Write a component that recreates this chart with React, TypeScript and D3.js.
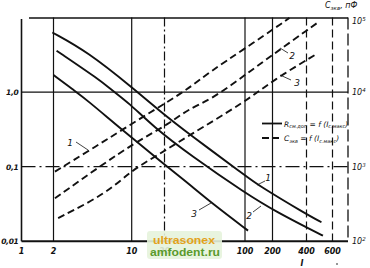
import React from 'react';
import * as d3 from 'd3';

// ---- data ----
const xTicks = [1, 2, 10, 20, 100, 200, 400, 600];
const xTickLabels = ['1', '2', '10', '20', '100', '200', '400', '600'];
const yTicks = [0.01, 0.1, 1];
const yTickLabels = ['0,01', '0,1', '1,0'];
const cTicks = [100, 1000, 10000, 100000];
const cTickExp = ['2', '3', '4', '5'];

// R = f(I) solid curves (left axis)
const r1I = [1.95, 4, 10.5, 17, 33, 100, 134, 400, 505];
const r1 = [6.3, 3.5, 1.1, 0.6, 0.27, 0.077, 0.058, 0.023, 0.018];
const r2I = [2.13, 5.2, 6.6, 9.5, 15.8, 33.3, 104, 218, 442, 517];
const r2 = [3.59, 1.45, 1.07, 0.71, 0.344, 0.1435, 0.0431, 0.0247, 0.0139, 0.0119];
const r3I = [2, 3, 4, 7.9, 20.3, 27.3, 33.3, 52.7, 108];
const r3 = [1.7, 1.07, 0.78, 0.327, 0.105, 0.073, 0.057, 0.0316, 0.0139];

// C = f(I) dashed curves (right axis, pF)
const c1I = [2.06, 4.24, 8.14, 20.3, 31.2, 49.7, 95.5, 267, 282];
const c1 = [860, 1670, 3100, 7100, 10700, 18800, 36600, 92500, 99000];
const c2I = [2.06, 5.4, 11.1, 22.3, 31.2, 53, 100, 188, 469];
const c2 = [377, 1054, 2163, 3820, 5750, 8260, 16950, 29840, 83600];
const c3I = [2.2, 6, 10, 17, 31, 104, 203, 457];
const c3 = [205, 440, 900, 1400, 2500, 7600, 14500, 31500];

const curveLabels = ['1', '2', '3'];

// ---- layout ----
const W = 370, H = 268;
const L = 21.5, R = 348, T = 17.5, B = 241.3;
const INK = '#111';
const FONT = 'DejaVu Sans';

const x = d3.scaleLog().domain(xTicks).range([L, 53.5, 131.7, 164.5, 245, 272.5, 306.5, 332.5]);
const yR = d3.scaleLog().domain([0.01, 10]).range([B, T]);
const yC = d3.scaleLog().domain([100, 100000]).range([B, T]);

const zip = (a: number[], b: number[]) => a.map((v, i) => [v, b[i]] as [number, number]);
const lineR = d3.line<[number, number]>().x(d => x(d[0])).y(d => yR(d[1])).curve(d3.curveBasis);
const lineC = d3.line<[number, number]>().x(d => x(d[0])).y(d => yC(d[1])).curve(d3.curveBasis);

const gridStyle: Record<number, string | undefined> = {
  1: undefined, 2: undefined, 10: undefined, 20: '9,3,2,3', 100: undefined, 200: undefined, 400: '8,4', 600: '8,4',
};

export default function App() {
  const tf = { fontFamily: FONT, fontStyle: 'italic' as const, fill: INK };
  return (
    <svg width={W} height={H} style={{ position: 'absolute', left: 0, top: 0, background: '#fff' }}>
      <rect width={W} height={H} fill="#fff" />
      {/* frame */}
      <line x1={L} x2={L} y1={T + 1.5} y2={B} stroke={INK} strokeWidth={1.6} />
      <line x1={29} x2={R} y1={T + 0.5} y2={T + 0.5} stroke={INK} strokeWidth={1.3} />
      <line x1={L} x2={R} y1={B} y2={B} stroke={INK} strokeWidth={2} />
      <line x1={R} x2={R} y1={T} y2={B} stroke={INK} strokeWidth={1.3} strokeDasharray="12,4" />
      {/* vertical grid */}
      {xTicks.slice(1).map(v => (
        <line key={v} x1={x(v)} x2={x(v)} y1={T} y2={B} stroke={INK} strokeWidth={1.2}
          strokeDasharray={gridStyle[v]} />
      ))}
      {/* horizontal grid */}
      <line x1={L} x2={R} y1={yR(1)} y2={yR(1)} stroke={INK} strokeWidth={1.2} />
      <line x1={L} x2={R} y1={yR(0.1)} y2={yR(0.1)} stroke={INK} strokeWidth={1.2} strokeDasharray="14,4,2,4" />

      {/* curves */}
      {[zip(r1I, r1), zip(r2I, r2), zip(r3I, r3)].map((d, i) => (
        <path key={'r' + i} d={lineR(d) || ''} fill="none" stroke={INK} strokeWidth={1.9} />
      ))}
      {[zip(c1I, c1), zip(c2I, c2), zip(c3I, c3)].map((d, i) => (
        <path key={'c' + i} d={lineC(d) || ''} fill="none" stroke={INK} strokeWidth={1.9} strokeDasharray="7,4" />
      ))}

      {/* curve labels with leaders */}
      <g {...tf} fontSize={9}>
        <text x={268} y={181} textAnchor="middle">{curveLabels[0]}</text>
        <line x1={265} y1={181} x2={257} y2={185} stroke={INK} strokeWidth={0.8} />
        <text x={249} y={219} textAnchor="middle">{curveLabels[1]}</text>
        <line x1={253} y1={212} x2={261} y2={206} stroke={INK} strokeWidth={0.8} />
        <text x={194} y={217} textAnchor="middle">{curveLabels[2]}</text>
        <line x1={199} y1={210} x2={211} y2={203} stroke={INK} strokeWidth={0.8} />

        <text x={70} y={146} textAnchor="middle">{curveLabels[0]}</text>
        <line x1={76} y1={142} x2={88} y2={150} stroke={INK} strokeWidth={0.8} />
        <text x={292} y={59} textAnchor="middle">{curveLabels[1]}</text>
        <line x1={280} y1={48} x2={288} y2={53} stroke={INK} strokeWidth={0.8} />
        <text x={297} y={86} textAnchor="middle">{curveLabels[2]}</text>
        <line x1={280} y1={75} x2={291} y2={80} stroke={INK} strokeWidth={0.8} />
      </g>

      {/* legend */}
      <line x1={262} x2={282} y1={123.5} y2={123.5} stroke={INK} strokeWidth={1.8} />
      <line x1={262} x2={282} y1={138} y2={138} stroke={INK} strokeWidth={1.8} strokeDasharray="7,3" />
      <g {...tf} fontSize={7.5}>
        <text x={284} y={126.5}>R<tspan fontSize={5} dy={1.5}>см.доп</tspan><tspan dy={-1.5}> = f (I</tspan><tspan fontSize={5} dy={1.5}>с.макс</tspan><tspan dy={-1.5}>)</tspan></text>
        <text x={284} y={141}>C<tspan fontSize={5} dy={1.5}>экв</tspan><tspan dy={-1.5}> = f (I</tspan><tspan fontSize={5} dy={1.5}>с.макс</tspan><tspan dy={-1.5}>)</tspan></text>
      </g>

      {/* left ticks */}
      <g {...tf} fontSize={7.5} fontWeight="bold">
        {yTicks.map((v, i) => (
          <text key={v} x={18.5} y={yR(v) + 3} textAnchor="end" letterSpacing={-0.3}>{yTickLabels[i]}</text>
        ))}
      </g>
      {/* bottom ticks */}
      <g {...tf} fontSize={8} fontWeight="bold">
        {xTicks.map((v, i) => (
          <text key={v} x={x(v)} y={254} textAnchor="middle">{xTickLabels[i]}</text>
        ))}
        <text x={302} y={266} textAnchor="middle">I</text>
        <circle cx={337} cy={264} r={0.8} fill={INK} />
      </g>
      {/* right ticks */}
      <g {...tf} fontSize={8}>
        {cTicks.map((v, i) => (
          <text key={v} x={352} y={yC(v) + (i === 3 ? 6 : 3)}>10<tspan fontSize={5.5} dy={-3}>{cTickExp[i]}</tspan></text>
        ))}
        <text x={325} y={8}>C<tspan fontSize={5.5} dy={1.5}>экв</tspan><tspan dy={-1.5}>, пФ</tspan></text>
      </g>

      {/* watermark */}
      <g>
        <rect x={147} y={231} width={75} height={28} rx={3} fill="#e6f3dc" opacity={0.9} />
        <text x={153} y={244} fontFamily="Liberation Sans" fontWeight="bold" fontSize={11} fill="#e3a21b"
          textLength={62} lengthAdjust="spacingAndGlyphs">ultrasonex</text>
        <text x={150} y={256} fontFamily="Liberation Sans" fontWeight="bold" fontSize={11} fill="#5a9a2c"
          textLength={70} lengthAdjust="spacingAndGlyphs">amfodent.ru</text>
      </g>
    </svg>
  );
}
